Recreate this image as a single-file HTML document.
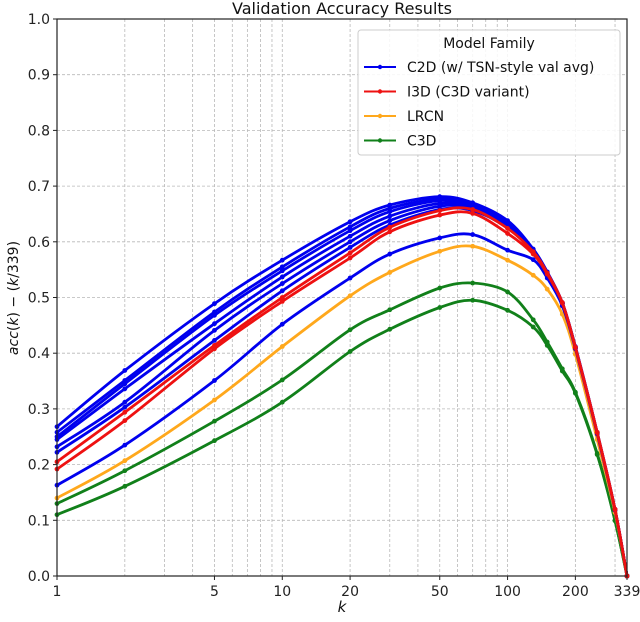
<!DOCTYPE html>
<html><head><meta charset="utf-8"><style>
html,body{margin:0;padding:0;background:#fff;}
svg{display:block;font-family:"DejaVu Sans","Liberation Sans",sans-serif;}
</style></head><body>
<svg id="chart" width="640" height="622" viewBox="0 0 640 622">
<g id="grid"></g>
<g id="series"></g>
<rect x="57" y="19" width="570" height="557" fill="none" stroke="#222" stroke-width="1.2"/>
<g id="axes"></g>
<text x="342" y="14" text-anchor="middle" font-size="16" fill="#111">Validation Accuracy Results</text>
<text x="18" y="298" text-anchor="middle" font-size="14" fill="#111" transform="rotate(-90 18 298)"><tspan font-style="italic">acc</tspan>(<tspan font-style="italic">k</tspan>) − (<tspan font-style="italic">k</tspan>/339)</text>
<text x="342" y="612" text-anchor="middle" font-size="15" font-style="italic" fill="#111">k</text>
<g id="legend">
<rect x="358" y="30" width="262" height="125" rx="3" fill="#fff" fill-opacity="0.85" stroke="#ccc"/>
<text x="489" y="48" text-anchor="middle" font-size="14" fill="#111">Model Family</text>
</g>
</svg>
<script>
const xTicks=[1,5,10,20,50,100,200,339];
const yTicks=[0,0.1,0.2,0.3,0.4,0.5,0.6,0.7,0.8,0.9,1.0];
const gridK=[2,3,4,5,6,7,8,9,10,20,30,40,50,60,70,80,90,100,200,300];
const kSamples=[1,2,5,10,20,30,50,70,100,130,150,175,200,250,300,339];
const blue1=[.268,.369,.489,.567,.636,.666,.681,.670,.638,.587,.546,.491,.412,.258,.120,0];
const blue2=[.258,.351,.474,.555,.627,.660,.677,.668,.635,.586,.545,.490,.411,.257,.119,0];
const blue3=[.250,.345,.468,.548,.620,.654,.674,.666,.632,.585,.544,.490,.410,.257,.119,0];
const blue4=[.245,.336,.453,.537,.610,.646,.669,.663,.630,.584,.543,.489,.410,.256,.119,0];
const blue5=[.232,.312,.441,.525,.600,.638,.664,.660,.628,.583,.543,.489,.409,.256,.118,0];
const blue6=[.222,.303,.423,.512,.590,.630,.658,.656,.625,.582,.542,.488,.409,.255,.118,0];
const red1=[.205,.294,.414,.500,.580,.626,.656,.658,.624,.582,.544,.491,.411,.258,.120,0];
const red2=[.192,.279,.408,.493,.571,.618,.648,.651,.615,.578,.542,.490,.410,.257,.119,0];
const blue7=[.163,.235,.351,.452,.535,.578,.607,.613,.585,.568,.535,.485,.408,.255,.118,0];
const orange1=[.140,.207,.316,.412,.503,.545,.583,.592,.567,.540,.515,.470,.398,.245,.114,0];
const green1=[.130,.189,.278,.352,.442,.478,.517,.526,.510,.460,.420,.372,.330,.220,.100,0];
const green2=[.110,.161,.243,.312,.403,.443,.482,.495,.477,.447,.414,.368,.328,.218,.099,0];
const seriesList=[[blue1,'#0000ee','c2d-run-1'],[blue2,'#0000ee','c2d-run-2'],[blue3,'#0000ee','c2d-run-3'],[blue4,'#0000ee','c2d-run-4'],[blue5,'#0000ee','c2d-run-5'],[blue6,'#0000ee','c2d-run-6'],[green2,'#11801a','c3d-run-2'],[green1,'#11801a','c3d-run-1'],[orange1,'#ffa81c','lrcn-run-1'],[blue7,'#0000ee','c2d-run-7'],[red2,'#ee1111','i3d-run-2'],[red1,'#ee1111','i3d-run-1']];
const legendLabels=['C2D (w/ TSN-style val avg)','I3D (C3D variant)','LRCN','C3D'];
const legendColors=['#0000ee','#ee1111','#ffa81c','#11801a'];
const NS='http://www.w3.org/2000/svg';
const L=57,R=627,T=19,B=576;
function xs(k){return L+(R-L)*Math.log10(k)/Math.log10(339);}
function ys(v){return B-(B-T)*v;}
function mk(tag,attrs,parent){const e=document.createElementNS(NS,tag);for(const a in attrs)e.setAttribute(a,attrs[a]);parent.appendChild(e);return e;}
function smoothPath(p){let d='M'+p[0][0].toFixed(1)+','+p[0][1].toFixed(1);
for(let i=0;i<p.length-1;i++){const p0=p[i-1]||p[i],p1=p[i],p2=p[i+1],p3=p[i+2]||p2;
const c1x=p1[0]+(p2[0]-p0[0])/6,c1y=p1[1]+(p2[1]-p0[1])/6,c2x=p2[0]-(p3[0]-p1[0])/6,c2y=p2[1]-(p3[1]-p1[1])/6;
d+=' C'+c1x.toFixed(1)+','+c1y.toFixed(1)+' '+c2x.toFixed(1)+','+c2y.toFixed(1)+' '+p2[0].toFixed(1)+','+p2[1].toFixed(1);}
return d;}
const grid=document.getElementById('grid'),axes=document.getElementById('axes'),ser=document.getElementById('series'),leg=document.getElementById('legend');
gridK.forEach(k=>{const l=mk('line',{x1:xs(k),x2:xs(k),y1:T,y2:B,stroke:'#b8b8b8','stroke-dasharray':'3,2','stroke-width':0.8},grid);

});
yTicks.forEach(v=>{const l=mk('line',{x1:L,x2:R,y1:ys(v),y2:ys(v),stroke:'#b8b8b8','stroke-dasharray':'3,2','stroke-width':0.8},grid);


const t=mk('line',{x1:L-4,x2:L,y1:ys(v),y2:ys(v),stroke:'#222'},axes);


const tx=mk('text',{x:L-7,y:ys(v)+5,'text-anchor':'end','font-size':14,fill:'#222'},axes);tx.textContent=v.toFixed(1);

});
xTicks.forEach(k=>{const t=mk('line',{x1:xs(k),x2:xs(k),y1:B,y2:B+4,stroke:'#222'},axes);


const tx=mk('text',{x:xs(k),y:B+20,'text-anchor':'middle','font-size':14,fill:'#222'},axes);tx.textContent=k;

});
seriesList.forEach(s=>{const vals=s[0],col=s[1];
const g=mk('g',{},ser);


const pts=kSamples.map((k,i)=>[xs(k),ys(vals[i])]);
const pl=mk('path',{d:smoothPath(pts),fill:'none',stroke:col,'stroke-width':2.8,'stroke-linejoin':'round'},g);


kSamples.forEach((k,i)=>{const c=mk('circle',{cx:xs(k),cy:ys(vals[i]),r:2.4,fill:col},g);

});});
legendLabels.forEach((lab,i)=>{const y=67+i*24.5;
const ln=mk('line',{x1:364,x2:396,y1:y,y2:y,stroke:legendColors[i],'stroke-width':2},leg);


mk('circle',{cx:380,cy:y,r:2.2,fill:legendColors[i]},leg);
const t=mk('text',{x:407,y:y+5,'font-size':14,fill:'#111'},leg);t.textContent=lab;

});
</script>
</body></html>
